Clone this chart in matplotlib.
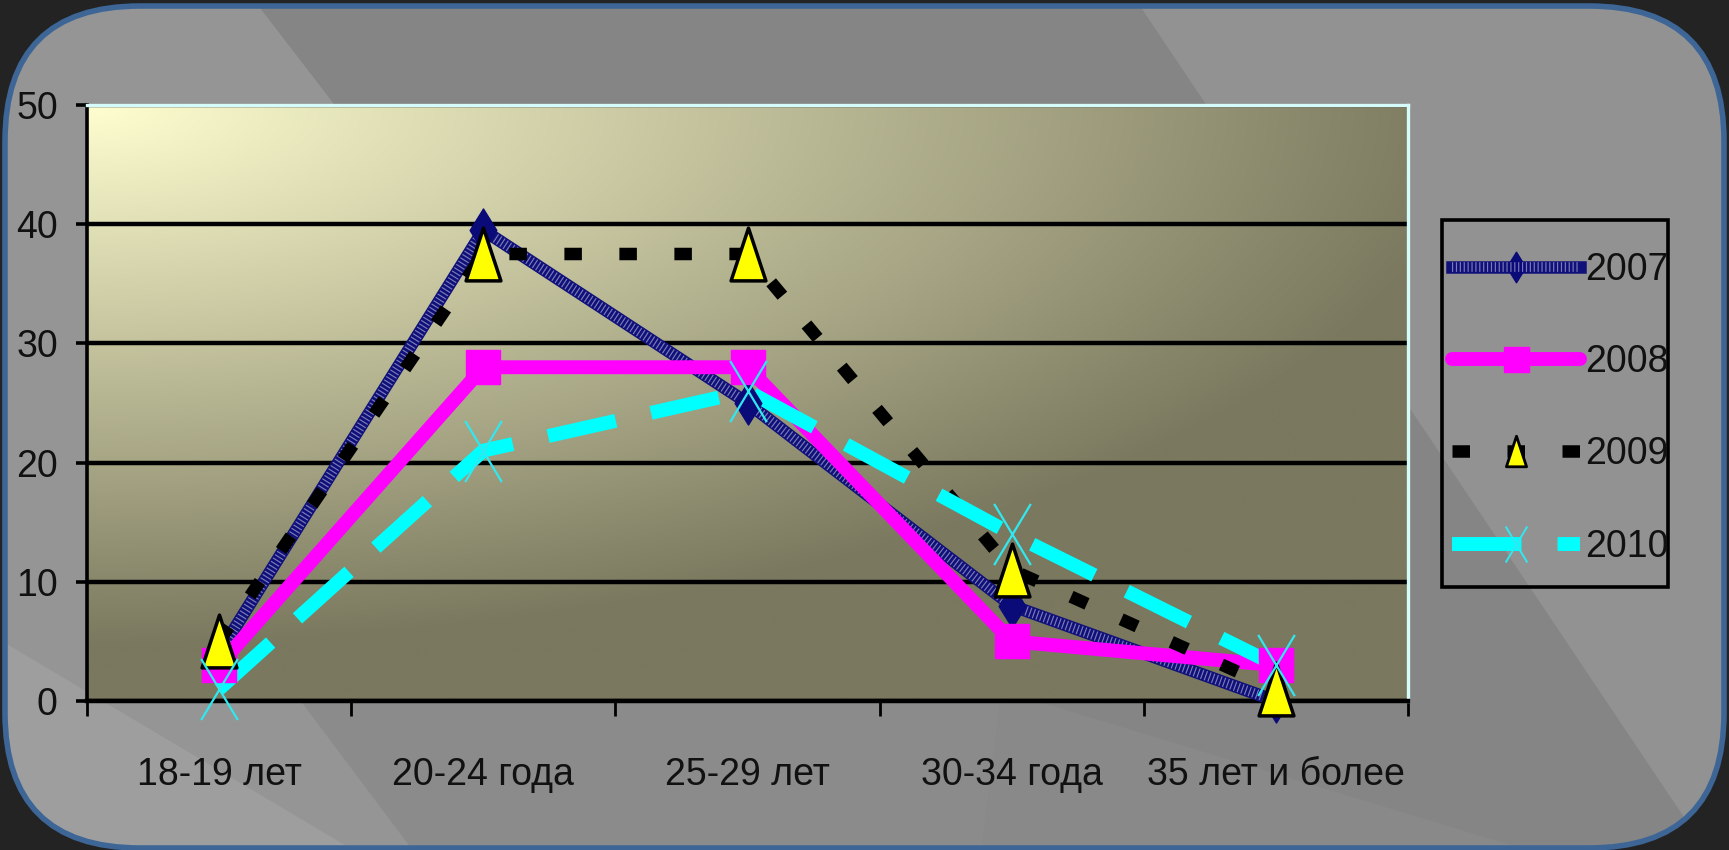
import numpy as np
import matplotlib
matplotlib.use("Agg")
import matplotlib.pyplot as plt
from matplotlib.patches import FancyBboxPatch, Polygon, Rectangle
from matplotlib.lines import Line2D
from matplotlib.path import Path
from matplotlib.font_manager import FontProperties

# ---------------- data ----------------
categories = ['18-19 лет', '20-24 года', '25-29 лет', '30-34 года', '35 лет и более']
series_names = ['2007', '2008', '2009', '2010']
v2007 = [4, 39.5, 25, 8, 0]
v2008 = [3, 28, 28, 5, 3]
v2009 = [5, 37.5, 37.5, 11, 1]
v2010 = [1, 21, 26, 14, 3]
yticks = [0, 10, 20, 30, 40, 50]

plt.rcParams['font.family'] = ['Liberation Sans', 'DejaVu Sans']


def FP(size):
    return FontProperties(family=['Liberation Sans', 'DejaVu Sans'], size=size)


W, H = 1729, 850
fig = plt.figure(figsize=(W / 100, H / 100), dpi=100)
fig.patch.set_facecolor('#232323')

# ---------------- background frame ----------------
bg = fig.add_axes([0, 0, 1, 1])
bg.set_xlim(0, W)
bg.set_ylim(H, 0)
bg.axis('off')
box = FancyBboxPatch((5, 6), 1719, 842, boxstyle="round,pad=0,rounding_size=135",
                     facecolor='#929292', edgecolor='none', zorder=1)
bg.add_patch(box)
streaks = [
    ([(0, 0), (254, 0), (908, 850), (0, 850)], '#959595'),
    ([(254, 0), (1136, 0), (1706, 850), (908, 850)], '#858585'),
    ([(1000, 690), (1560, 860), (980, 860)], '#898989'),
    ([(300, 700), (1000, 700), (980, 860), (420, 860)], '#8b8b8b'),
    ([(0, 640), (370, 860), (0, 860)], '#9e9e9e'),
]
for pts, c in streaks:
    p = Polygon(pts, closed=True, facecolor=c, edgecolor='none', zorder=2)
    bg.add_patch(p)
    p.set_clip_path(box)
border = FancyBboxPatch((5, 6), 1719, 842, boxstyle="round,pad=0,rounding_size=135",
                        facecolor='none', edgecolor='#3d6697', linewidth=4, zorder=3)
bg.add_patch(border)
# legend frame
bg.add_patch(Rectangle((1442, 220), 226, 367, facecolor='none', edgecolor='black',
                       linewidth=2.6, zorder=4))

# ---------------- main axes ----------------
L, R, T, B = 87, 1408, 105, 701
ax = fig.add_axes([L / W, (H - B) / H, (R - L) / W, (B - T) / H])
ax.set_xlim(-0.5, 4.5)
ax.set_ylim(0, 50)

# gradient plot area
ny, nx = 200, 400
yy, xx = np.mgrid[0:1:ny * 1j, 0:1:nx * 1j]
t = np.clip(np.sqrt((xx * 0.95) ** 2 + (yy * 1.1) ** 2), 0, 1)
c0 = np.array([0xfe, 0xfe, 0xd0]) / 255
c1 = np.array([0x7a, 0x78, 0x5e]) / 255
img = c0[None, None, :] * (1 - t[..., None]) + c1[None, None, :] * t[..., None]
ax.imshow(img, extent=[-0.5, 4.5, 0, 50], aspect='auto', origin='upper', zorder=0)

x = np.arange(len(categories))

# lines
ax.plot(x, v2007, color='#10107a', lw=9, solid_joinstyle='round', solid_capstyle='round', zorder=3)
ax.plot(x, v2007, color='white', lw=7, alpha=0.45, linestyle=(0, (0.12, 0.28)),
        dash_capstyle='butt', zorder=3.05)
ax.plot(x, v2008, color='#ff00ff', lw=10, solid_joinstyle='round', solid_capstyle='round', zorder=3.1)
ax.plot(x, v2009, color='black', lw=9, linestyle=(0, (1.4, 3.0)), dash_capstyle='butt', zorder=3.2)
ax.plot(x, v2010, color='#00ffff', lw=10, linestyle=(0, (5.0, 2.6)), dash_capstyle='butt', zorder=3.3)

diamond = Path([(0, 1), (0.62, 0), (0, -1), (-0.62, 0), (0, 1)],
               [Path.MOVETO, Path.LINETO, Path.LINETO, Path.LINETO, Path.CLOSEPOLY])
triangle = Path([(0, 1), (0.66, -1), (-0.66, -1), (0, 1)],
                [Path.MOVETO, Path.LINETO, Path.LINETO, Path.CLOSEPOLY])
xmark = Path([(-0.6, -1), (0.6, 1), (-0.6, 1), (0.6, -1)],
             [Path.MOVETO, Path.LINETO, Path.MOVETO, Path.LINETO])

ax.plot(x, v2007, linestyle='none', marker=diamond, markersize=31, color='#0a0a78',
        markeredgecolor='#0a0a78', zorder=4)
ax.plot(x, v2008, linestyle='none', marker='s', markersize=25, color='#ff00ff',
        markeredgecolor='#ff00ff', zorder=4.1)
ax.plot(x, v2009, linestyle='none', marker=triangle, markersize=38, markerfacecolor='#ffff00',
        markeredgecolor='black', markeredgewidth=2.5, zorder=4.2)
ax.plot(x, v2010, linestyle='none', marker=xmark, markersize=44, markerfacecolor='none',
        markeredgecolor='#30e8f0', markeredgewidth=1.6, zorder=4.3)
for ln in ax.lines:
    ln.set_clip_on(False)

# axes styling
ax.set_yticks(yticks)
ax.set_yticklabels([str(v) for v in yticks], fontproperties=FP(27))
ax.set_xticks(np.arange(-0.5, 4.6, 1.0))
ax.set_xticklabels([])
ax.set_xticks(x, minor=True)
ax.set_xticklabels(categories, minor=True, fontproperties=FP(27))
ax.tick_params(axis='y', which='major', length=8, width=2.6, direction='out',
               pad=13, colors='black', labelcolor='#111111')
ax.tick_params(axis='x', which='major', length=11, width=2.0, direction='out', colors='black')
ax.tick_params(axis='x', which='minor', length=0, pad=40, labelcolor='#111111')
ax.set_axisbelow(True)
ax.yaxis.grid(True, color='black', lw=3.2)
ax.xaxis.grid(False)
ax.spines['left'].set_color('black')
ax.spines['left'].set_linewidth(2.6)
ax.spines['bottom'].set_color('black')
ax.spines['bottom'].set_linewidth(3.2)
for side in ['top', 'right']:
    ax.spines[side].set_color('#d6fbfb')
    ax.spines[side].set_linewidth(2.4)

# legend
h07 = (Line2D([], [], color='#10107a', lw=9, marker=diamond, markersize=22,
              markerfacecolor='#0a0a78', markeredgecolor='#0a0a78'),
       Line2D([], [], color='white', lw=7, alpha=0.45, linestyle=(0, (0.12, 0.28))))
h08 = Line2D([], [], color='#ff00ff', lw=10, marker='s', markersize=18,
             markerfacecolor='#ff00ff', markeredgecolor='#ff00ff', solid_capstyle='round')
h09 = Line2D([], [], color='black', lw=9, linestyle=(0, (1.4, 3.0)), marker=triangle,
             markersize=22, markerfacecolor='#ffff00', markeredgecolor='black', markeredgewidth=2)
h10 = Line2D([], [], color='#00ffff', lw=10, linestyle=(0, (5.0, 2.6)), marker=xmark,
             markersize=26, markerfacecolor='none', markeredgecolor='#30e8f0', markeredgewidth=1.4)
fs_leg = 27
px = fs_leg * 100 / 72
leg = fig.legend([h07, h08, h09, h10], series_names, loc='upper left',
                 bbox_to_anchor=(1452 / W, (H - 252) / H), prop=FP(fs_leg),
                 handlelength=128 / px, handletextpad=5 / px, borderpad=0,
                 labelspacing=1.5, borderaxespad=0, frameon=False)
for txt in leg.get_texts():
    txt.set_color('#111111')

fig.savefig('out.png', dpi=100, facecolor=fig.get_facecolor())
